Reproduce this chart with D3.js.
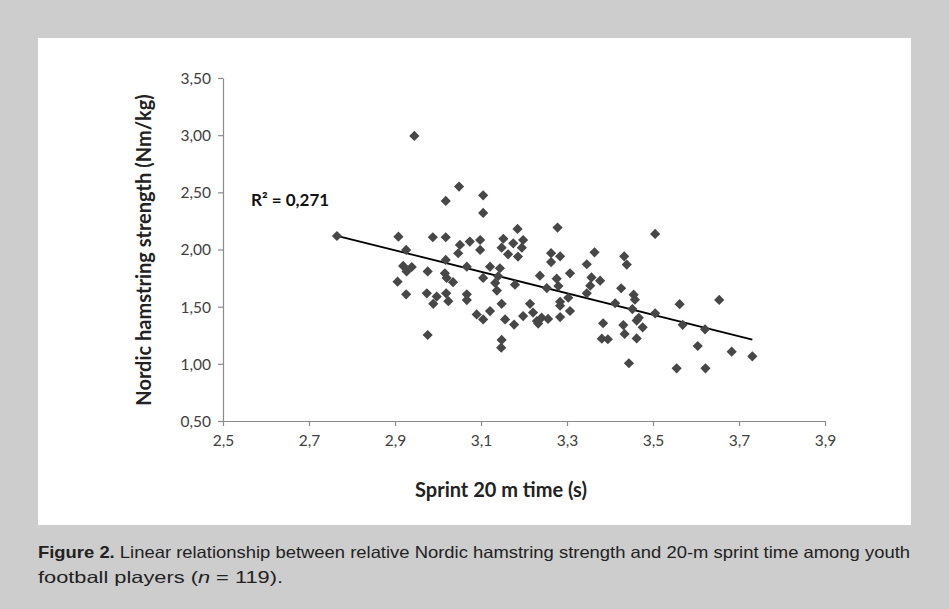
<!DOCTYPE html>
<html><head><meta charset="utf-8">
<script src="https://cdn.jsdelivr.net/npm/d3@7"></script>
<style>html,body{margin:0;padding:0;background:#cdcdcd;}svg{display:block;}</style>
</head><body>
<svg id="c" width="949" height="609"></svg>
<script>
// Sprint 20 m time (s)
const sprint = [2.765,2.945,3.049,3.018,3.105,3.105,2.908,2.988,3.018,3.185,
2.926,3.051,3.074,3.098,3.047,3.098,3.152,3.198,3.148,3.175,
3.195,3.163,3.186,3.018,3.067,2.919,2.939,2.927,2.976,3.016,
3.020,3.035,2.906,3.067,3.067,2.926,2.974,2.997,3.019,2.989,
3.024,2.976,3.263,3.263,3.121,3.144,3.105,3.140,3.133,3.137,
3.237,3.179,3.253,3.148,3.121,3.090,3.105,3.156,3.214,3.198,
3.221,3.241,3.230,3.256,3.177,3.233,3.148,3.147,3.278,3.284,
3.364,3.346,3.307,3.433,3.439,3.357,3.377,3.354,3.276,3.280,
3.426,3.346,3.303,3.284,3.412,3.307,3.284,3.284,3.455,3.458,
3.452,3.384,3.431,3.434,3.381,3.395,3.562,3.654,3.505,3.467,
3.462,3.476,3.462,3.569,3.621,3.604,3.683,3.731,3.444,3.555,
3.622,3.505];
// Nordic hamstring strength (Nm/kg)
const nordic = [2.118,2.993,2.550,2.425,2.474,2.320,2.112,2.107,2.107,2.180,
1.996,2.040,2.069,2.083,1.967,1.996,2.094,2.083,2.016,2.054,
2.016,1.958,1.938,1.909,1.850,1.856,1.847,1.808,1.808,1.792,
1.751,1.714,1.719,1.608,1.558,1.608,1.617,1.588,1.617,1.525,
1.548,1.252,1.968,1.890,1.850,1.836,1.751,1.766,1.708,1.641,
1.771,1.692,1.663,1.525,1.461,1.432,1.388,1.388,1.525,1.418,
1.448,1.404,1.374,1.393,1.343,1.352,1.209,1.141,2.192,1.940,
1.975,1.871,1.792,1.940,1.868,1.756,1.727,1.684,1.745,1.680,
1.661,1.617,1.578,1.543,1.530,1.462,1.508,1.409,1.605,1.561,
1.479,1.355,1.339,1.262,1.220,1.215,1.522,1.559,1.442,1.403,
1.378,1.319,1.222,1.341,1.302,1.156,1.106,1.066,1.005,0.961,
0.961,2.136];
const xTicks = [2.5,2.7,2.9,3.1,3.3,3.5,3.7,3.9];
const yTicks = [0.5,1.0,1.5,2.0,2.5,3.0,3.5];
const trendSlope = -0.940;
const trendIntercept = 4.719;
const r2Label = "R² = 0,271";
const xTitle = "Sprint 20 m time (s)";
const yTitle = "Nordic hamstring strength (Nm/kg)";
const captionBold = "Figure 2.";
const captionLine1 = " Linear relationship between relative Nordic hamstring strength and 20-m sprint time among youth";
const captionLine2a = "football players (";
const captionLine2n = "n";
const captionLine2b = " = 119).";

const svg = d3.select("#c");
svg.append("rect").attr("x",0).attr("y",0).attr("width",949).attr("height",609).attr("fill","#cdcdcd");
svg.append("rect").attr("x",38).attr("y",38).attr("width",873).attr("height",487).attr("fill","#ffffff");

const x = d3.scaleLinear().domain([2.5,3.9]).range([223,825]);
const y = d3.scaleLinear().domain([0.5,3.5]).range([421,78]);
const comma = v => d3.format(".2f")(v).replace(".",",");
const comma1 = v => d3.format(".1f")(v).replace(".",",");
const font = "Lato, 'Open Sans', sans-serif";

const yAxis = svg.append("g").attr("transform","translate(223,0)")
  .call(d3.axisLeft(y).tickValues(yTicks).tickFormat(comma).tickSize(5).tickSizeOuter(0));
const xAxis = svg.append("g").attr("transform","translate(0,421)")
  .call(d3.axisBottom(x).tickValues(xTicks).tickFormat(comma1).tickSize(5).tickSizeOuter(0));
[yAxis,xAxis].forEach(a=>{
  a.selectAll("path,line").attr("stroke","#8c8c8c").attr("stroke-width",1.2);
  a.selectAll("text").attr("font-family",font).attr("font-size",15.5).attr("fill","#404040");
});
yAxis.selectAll("text").attr("x",-12).attr("dy","0.35em");
xAxis.selectAll("text").attr("y",14).attr("dy","0.71em");

// trend line
const data = sprint.map((s,i)=>({s, n: nordic[i]}));
const xmin = d3.min(sprint), xmax = d3.max(sprint);
svg.append("line")
  .attr("x1",x(xmin)).attr("y1",y(trendIntercept+trendSlope*xmin))
  .attr("x2",x(xmax)).attr("y2",y(trendIntercept+trendSlope*xmax))
  .attr("stroke","#000").attr("stroke-width",1.8);

const sym = d3.symbol().type(d3.symbolSquare).size(52);
svg.append("g").selectAll("path").data(data).join("path")
  .attr("d",sym)
  .attr("transform",d=>`translate(${x(d.s)},${y(d.n)}) rotate(45)`)
  .attr("fill","#474747");

svg.append("text").attr("x",251).attr("y",206).text(r2Label)
  .attr("font-family",font).attr("font-weight","bold").attr("font-size",17).attr("fill","#111");

svg.append("text").attr("x",501).attr("y",497).attr("text-anchor","middle").text(xTitle)
  .attr("font-family",font).attr("font-weight","bold").attr("font-size",20).attr("fill","#222");
svg.append("text").attr("transform","translate(151,250) rotate(-90)").attr("text-anchor","middle").text(yTitle)
  .attr("font-family",font).attr("font-weight","bold").attr("font-size",20).attr("fill","#222");

const capFont = "'Liberation Sans', Arial, sans-serif";
const c1 = svg.append("text").attr("x",38).attr("y",558).attr("font-family",capFont).attr("font-size",16.5).attr("fill","#222")
  .attr("textLength",872).attr("lengthAdjust","spacingAndGlyphs");
c1.append("tspan").attr("font-weight","bold").text(captionBold);
c1.append("tspan").text(captionLine1);
const c2 = svg.append("text").attr("x",38).attr("y",583).attr("font-family",capFont).attr("font-size",16.5).attr("fill","#222")
  .attr("textLength",245).attr("lengthAdjust","spacingAndGlyphs");
c2.append("tspan").text(captionLine2a);
c2.append("tspan").attr("font-style","italic").text(captionLine2n);
c2.append("tspan").text(captionLine2b);
</script>
</body></html>
